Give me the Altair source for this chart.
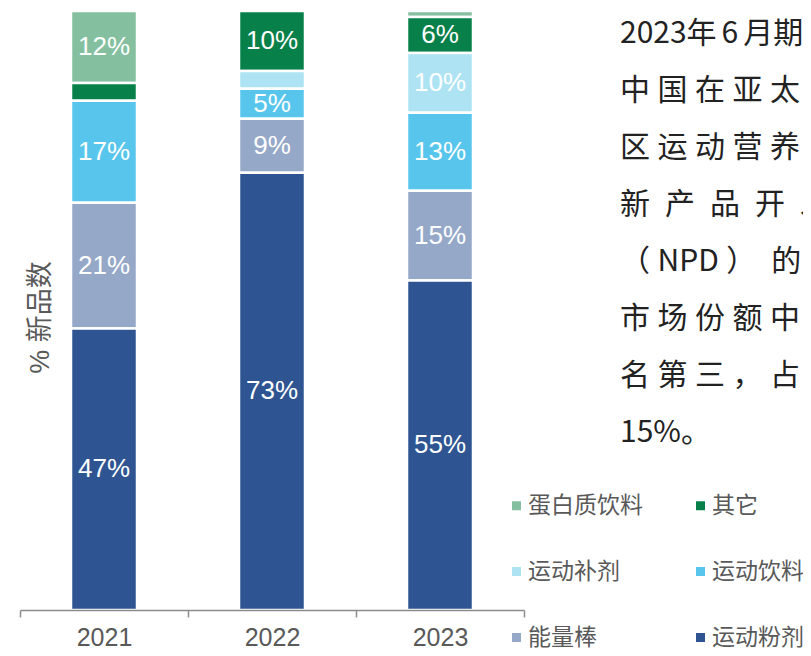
import altair as alt
import pandas as pd

years = ["2021", "2022", "2023"]
categories = ["蛋白质饮料", "其它", "运动补剂", "运动饮料", "能量棒", "运动粉剂"]
colors = ["#84BFA0", "#08804A", "#AEE3F3", "#58C6EC", "#95A8C8", "#2E5592"]

protein_drink = [12, 0, 1]
other = [3, 10, 6]
supplement = [0, 3, 10]
sports_drink = [17, 5, 13]
energy_bar = [21, 9, 15]
sports_powder = [47, 73, 55]

series = [protein_drink, other, supplement, sports_drink, energy_bar, sports_powder]

rows = []
for ci, (cat, vals) in enumerate(zip(categories, series)):
    for y, v in zip(years, vals):
        if v > 0:
            rows.append({"year": y, "cat": cat, "value": v, "ord": len(categories) - ci})
df = pd.DataFrame(rows)

S4 = "\u2005"
S6 = "\u2006"
EN = "\u2002"
side_lines = [
    "2023年" + S6 + "6" + S6 + "月期间，",
    S4.join("中国在亚太地"),
    S4.join("区运动营养类"),
    EN.join("新产品开发"),
    "（" + S4 + "NPD" + S4 + "）" + EN + "的" + S4 + "总",
    S4.join("市场份额中排"),
    S4.join("名第三，占比"),
    "15%。",
]

base = alt.Chart(df)

bars = base.mark_bar(width=66, stroke="white", strokeWidth=2.5).encode(
    x=alt.X(
        "year:N",
        scale=alt.Scale(paddingInner=0, paddingOuter=0),
        axis=alt.Axis(
            title=None,
            labelAngle=0,
            labelFont="Liberation Sans",
            labelFontSize=25,
            labelColor="#595959",
            labelPadding=8,
            tickBand="extent",
            tickSize=7,
            tickColor="#8C8C8C",
            domainColor="#8C8C8C",
            tickWidth=1.5,
            domainWidth=1.5,
            zindex=1,
        ),
    ),
    y=alt.Y(
        "value:Q",
        stack="zero",
        scale=alt.Scale(domain=[0, 100], nice=False),
        axis=alt.Axis(
            title="% 新品数",
            domain=False,
            ticks=False,
            labels=False,
            grid=False,
            titleFont="Liberation Sans, Noto Sans CJK SC",
            titleFontSize=27,
            titleFontWeight="normal",
            titleColor="#595959",
            titleAngle=270,
            titleX=20,
            titleY=306,
            titleAlign="center",
            titleBaseline="middle",
        ),
    ),
    color=alt.Color(
        "cat:N",
        scale=alt.Scale(domain=categories, range=colors),
        legend=alt.Legend(
            title=None,
            orient="none",
            direction="horizontal",
            legendX=485,
            legendY=483,
            columns=2,
            symbolType="square",
            symbolSize=81,
            symbolStrokeWidth=0,
            labelFont="Noto Sans CJK SC",
            labelFontSize=23,
            labelColor="#595959",
            labelOffset=0,
            rowPadding=42,
            columnPadding=46,
            labelLimit=300,
            padding=0,
        ),
    ),
    order=alt.Order("ord:Q", sort="ascending"),
)

labels = (
    base.transform_stack(
        stack="value",
        groupby=["year"],
        as_=["v0", "v1"],
        sort=[alt.SortField("ord", order="ascending")],
    )
    .transform_calculate(mid="(datum.v0 + datum.v1) / 2", lab="datum.value + '%'")
    .transform_filter("datum.value >= 5")
    .mark_text(color="white", fontSize=26, font="Liberation Sans", baseline="middle")
    .encode(x="year:N", y="mid:Q", text="lab:N")
)

side = (
    alt.Chart(pd.DataFrame({"t": ["\n".join(side_lines)]}))
    .mark_text(
        align="left",
        baseline="alphabetic",
        lineBreak="\n",
        lineHeight=57,
        fontSize=30,
        font="Noto Sans CJK SC",
        color="#222222",
    )
    .encode(x=alt.value(600), y=alt.value(32), text="t:N")
)

chart = (
    alt.layer(bars, labels, side)
    .properties(
        width=504,
        height=599,
        padding={"left": 12, "top": 3, "right": 279, "bottom": 38},
        autosize=alt.AutoSizeParams(type="none"),
    )
    .configure_view(stroke=None)
)

chart.save("out.html", embed_options={"renderer": "svg", "actions": False})
